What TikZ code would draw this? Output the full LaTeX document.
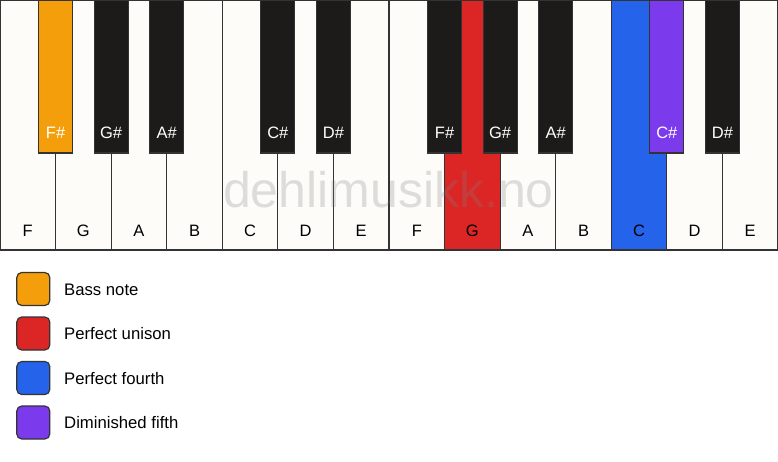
\documentclass[tikz,border=0pt]{standalone}
\usepackage{fontspec}
\setmainfont{Liberation Sans}
\definecolor{keywhite}{HTML}{FDFCF9}
\definecolor{keyblack}{HTML}{1C1B19}
\definecolor{edge}{HTML}{333333}
\definecolor{cbass}{HTML}{F59E0B}
\definecolor{cunison}{HTML}{DC2626}
\definecolor{cfourth}{HTML}{2563EB}
\definecolor{cfifth}{HTML}{7C3AED}
\tikzset{
  whitekey/.style={draw=edge, line width=1.2pt, fill=keywhite, inner sep=0pt, outer sep=0pt,
    minimum width=55.5714pt, minimum height=250pt, anchor=north west},
  blackkey/.style={draw=edge, line width=1.2pt, fill=keyblack, inner sep=0pt, outer sep=0pt,
    minimum width=34pt, minimum height=153pt, anchor=north},
  wlabel/.style={font=\fontsize{16.5}{18}\selectfont, text=black, inner sep=0pt},
  blabel/.style={font=\fontsize{16.5}{18}\selectfont, text=white, inner sep=0pt},
  legbox/.style={draw=edge, line width=1.2pt, rounded corners=5pt, minimum size=33pt, inner sep=0pt},
  legtext/.style={font=\fontsize{16.7}{18}\selectfont, anchor=west, inner sep=0pt},
}
\begin{document}
\begin{tikzpicture}[x=1pt,y=-1pt]
\useasboundingbox (0,0) rectangle (778,461);
\fill[white] (0,0) rectangle (778,461);
% white keys
\foreach \i/\n/\c in {0/F/keywhite,1/G/keywhite,2/A/keywhite,3/B/keywhite,4/C/keywhite,5/D/keywhite,6/E/keywhite,
  7/F/keywhite,8/G/cunison,9/A/keywhite,10/B/keywhite,11/C/cfourth,12/D/keywhite,13/E/keywhite}{
  \node[whitekey, fill=\c] (w\i) at ({\i*55.5714},0) {};
  \node[wlabel] (wl\i) at ([yshift=19.5pt]w\i.south) {\n};
}
% black keys
\foreach \i/\n/\c in {1/F\#/cbass,2/G\#/keyblack,3/A\#/keyblack,5/C\#/keyblack,6/D\#/keyblack,
  8/F\#/keyblack,9/G\#/keyblack,10/A\#/keyblack,12/C\#/cfifth,13/D\#/keyblack}{
  \node[blackkey, fill=\c] (b\i) at ({\i*55.5714},0) {};
  \node[blabel] (bl\i) at ([yshift=20pt]b\i.south) {\n};
}
% watermark
\node[font=\fontsize{50}{52}\selectfont, text=gray, text opacity=0.25, anchor=base, inner sep=0pt] (wm) at (388.5,207) {dehlimusikk.no};
% legend
\node[legbox, fill=cbass] (l1) at (33.3,289) {};
\node[legtext] (t1) at (64,289.5) {Bass note};
\node[legbox, fill=cunison] (l2) at (33.3,333.5) {};
\node[legtext] (t2) at (64,334) {Perfect unison};
\node[legbox, fill=cfourth] (l3) at (33.3,378) {};
\node[legtext] (t3) at (64,378.5) {Perfect fourth};
\node[legbox, fill=cfifth] (l4) at (33.3,422.5) {};
\node[legtext] (t4) at (64,423) {Diminished fifth};
\end{tikzpicture}
\end{document}
